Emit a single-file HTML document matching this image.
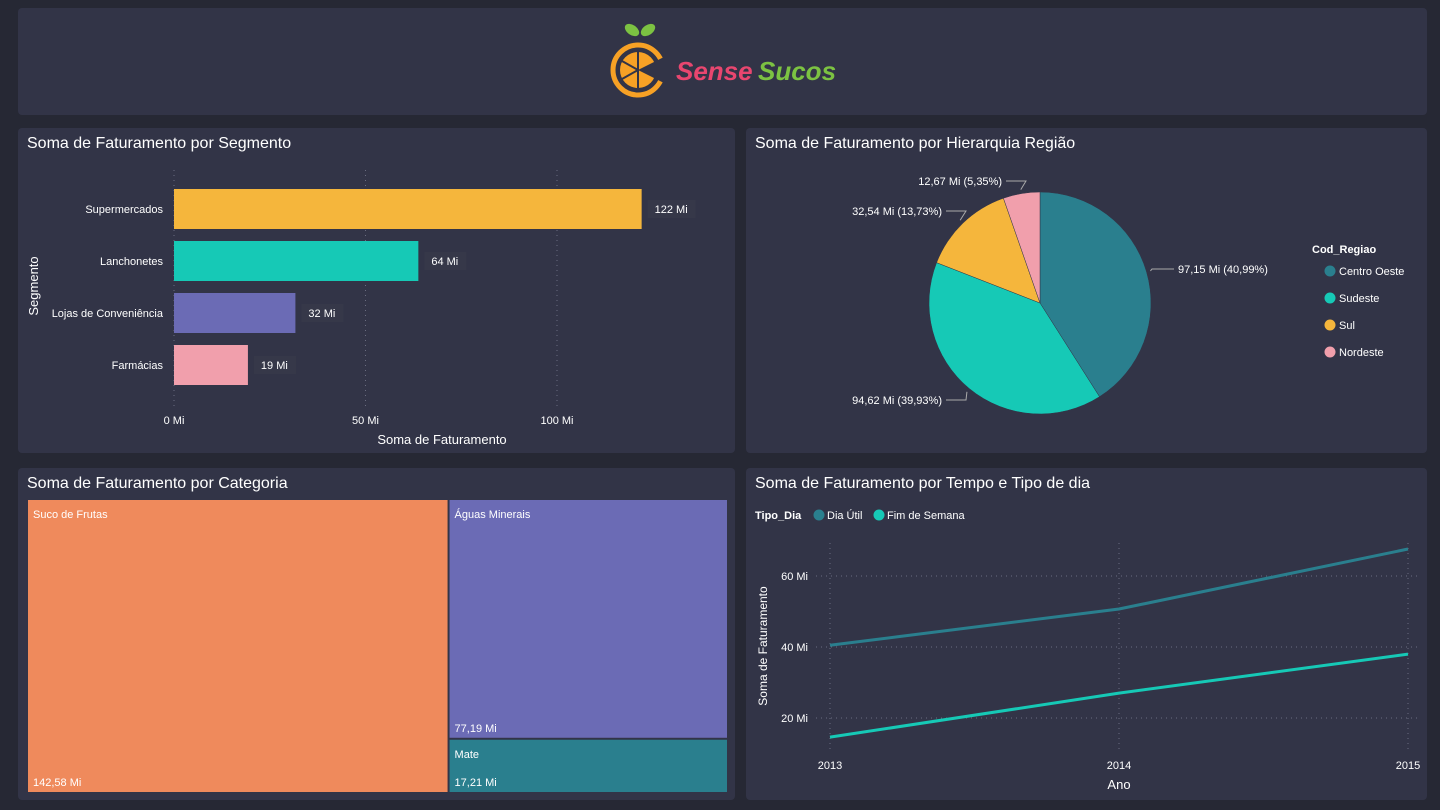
<!DOCTYPE html>
<html><head><meta charset="utf-8">
<style>
body{margin:0;width:1440px;height:810px;background:#262834;font-family:"Liberation Sans",sans-serif;overflow:hidden;position:relative;color:#fff}
.panel{position:absolute;background:#323447;border-radius:4px}
.title{position:absolute;left:9px;top:7px;font-size:16px;color:#fff}
svg text{font-family:"Liberation Sans",sans-serif}
</style></head><body>
<div class="panel" style="left:18px;top:8px;width:1409px;height:107px">
<svg width="1409" height="107">
 <ellipse cx="614" cy="22" rx="8" ry="5" fill="#7cc242" transform="rotate(35 614 22)"/>
 <ellipse cx="630" cy="22" rx="8" ry="5" fill="#7cc242" transform="rotate(-35 630 22)"/>
 <circle cx="620" cy="62" r="25" fill="none" stroke="#f7a125" stroke-width="5"/>
 <circle cx="620" cy="62" r="18" fill="#f7a125"/>
 <path d="M620 62 L648 48 L648 76 Z" fill="#323447"/>
 <g stroke="#323447" stroke-width="2"><line x1="620" y1="62" x2="620" y2="44"/><line x1="620" y1="62" x2="604" y2="53"/><line x1="620" y1="62" x2="604" y2="71"/><line x1="620" y1="62" x2="620" y2="80"/></g>
 <text x="658" y="72" font-size="26" font-weight="bold" font-style="italic" fill="#e8466f">Sense</text>
 <text x="740" y="72" font-size="26" font-weight="bold" font-style="italic" fill="#7cc242">Sucos</text>
</svg></div>

<div class="panel" style="left:18px;top:128px;width:717px;height:325px">
<div class="title">Soma de Faturamento por Segmento</div>
<svg id="bar" width="717" height="325" style="position:absolute;left:0;top:0"></svg></div>

<div class="panel" style="left:746px;top:128px;width:681px;height:325px">
<div class="title">Soma de Faturamento por Hierarquia Região</div>
<svg id="pie" width="681" height="325" style="position:absolute;left:0;top:0"></svg></div>

<div class="panel" style="left:18px;top:468px;width:717px;height:332px">
<div class="title">Soma de Faturamento por Categoria</div>
<svg id="tree" width="717" height="332" style="position:absolute;left:0;top:0"></svg></div>

<div class="panel" style="left:746px;top:468px;width:681px;height:332px">
<div class="title">Soma de Faturamento por Tempo e Tipo de dia</div>
<svg id="line" width="681" height="332" style="position:absolute;left:0;top:0"></svg></div>

<script>
const NS="http://www.w3.org/2000/svg";
function mk(p,t,a,txt){const e=document.createElementNS(NS,t);for(const k in a)e.setAttribute(k,a[k]);if(txt!==undefined)e.textContent=txt;p.appendChild(e);return e;}

// ---- Bar chart data
const segCats=["Supermercados","Lanchonetes","Lojas de Conveniência","Farmácias"];
const segVals=[122.1,63.8,31.7,19.3];
const segLabels=["122 Mi","64 Mi","32 Mi","19 Mi"];
const segColors=["#f5b63c","#16c9b6","#6b6bb5","#f19fac"];
const segTicks=[0,50,100];
// ---- Pie data
const regCats=["Centro Oeste","Sudeste","Sul","Nordeste"];
const regVals=[97.15,94.62,32.54,12.67];
const regLabels=["97,15 Mi (40,99%)","94,62 Mi (39,93%)","32,54 Mi (13,73%)","12,67 Mi (5,35%)"];
const regColors=["#2a7f8e","#16c9b6","#f5b63c","#f19fac"];
// ---- Treemap data
const catNames=["Suco de Frutas","Águas Minerais","Mate"];
const catVals=[142.58,77.19,17.21];
const catLabels=["142,58 Mi","77,19 Mi","17,21 Mi"];
const catColors=["#ef8a5c","#6b6bb5","#2a7f8e"];
// ---- Line data
const years=["2013","2014","2015"];
const diaUtil=[40.5,50.7,67.6];
const fimSemana=[14.6,27.0,38.0];
const lineTicks=[20,40,60];

// Bar
(function(){
 const s=document.getElementById('bar');
 const x=v=>156+v*3.83;
 const y0=61,step=52,bh=40;
 segTicks.forEach(t=>{
  const l=mk(s,'line',{x1:x(t),x2:x(t),y1:42,y2:282,stroke:'#6a6c80','stroke-dasharray':'1,4'});
  
  const tx=mk(s,'text',{x:x(t),y:296,'font-size':11,fill:'#fff','text-anchor':'middle'},t+' Mi');
  
 });
 segCats.forEach((c,i)=>{
  const yy=y0+i*step;
  const r=mk(s,'rect',{x:x(0),y:yy,width:x(segVals[i])-x(0),height:bh,fill:segColors[i]});
  
  const lb=mk(s,'text',{x:145,y:yy+bh/2+4,'font-size':11,fill:'#fff','text-anchor':'end'},c);
  
  const bg=mk(s,'rect',{x:x(segVals[i])+6,y:yy+11,width:segLabels[i].length*6+12,height:18,fill:'#363849'});
  
  const v=mk(s,'text',{x:x(segVals[i])+13,y:yy+bh/2+4,'font-size':11,fill:'#fff'},segLabels[i]);
  
 });
 const xt=mk(s,'text',{x:424,y:316,'font-size':13,fill:'#fff','text-anchor':'middle'},'Soma de Faturamento');
 
 const yt=mk(s,'text',{x:0,y:0,'font-size':13,fill:'#fff','text-anchor':'middle',transform:'translate(20,158) rotate(-90)'},'Segmento');
 
})();

// Pie
(function(){
 const s=document.getElementById('pie');
 const cx=294,cy=175,r=111;
 const tot=regVals.reduce((a,b)=>a+b,0);
 let a=-Math.PI/2;
 const lp=[[432,145,'start'],[196,276,'end'],[196,87,'end'],[256,57,'end']];
 regVals.forEach((v,i)=>{
  const da=v/tot*2*Math.PI,a2=a+da;
  const x1=cx+r*Math.cos(a),y1=cy+r*Math.sin(a),x2=cx+r*Math.cos(a2),y2=cy+r*Math.sin(a2);
  const p=mk(s,'path',{d:`M${cx},${cy} L${x1},${y1} A${r},${r} 0 ${da>Math.PI?1:0} 1 ${x2},${y2} Z`,fill:regColors[i],stroke:'#323447','stroke-width':0.5});
  
  const m=(a+a2)/2,ex=cx+(r+4)*Math.cos(m),ey=cy+(r+4)*Math.sin(m);
  const [lx,ly,an]=lp[i];
  const bx=an=='start'?lx-26:lx+24;
  const ll=mk(s,'polyline',{points:`${ex},${ey} ${bx},${ly-4} ${lx+(an=='start'?-4:4)},${ly-4}`,fill:'none',stroke:'#aaa','stroke-width':1});
  
  const t=mk(s,'text',{x:lx,y:ly,'font-size':11,fill:'#fff','text-anchor':an},regLabels[i]);
  
  a=a2;
 });
 const lt=mk(s,'text',{x:566,y:125,'font-size':11,'font-weight':'bold',fill:'#fff'},'Cod_Regiao');
 
 regCats.forEach((c,i)=>{
  const g=mk(s,'g',{});
  mk(g,'circle',{cx:584,cy:143+i*27,r:5.5,fill:regColors[i]});
  mk(g,'text',{x:593,y:147+i*27,'font-size':11,fill:'#fff'},c);
 });
})();

// Treemap
(function(){
 const s=document.getElementById('tree');
 const X=10,Y=32,W=699,H=292;
 const tot=catVals.reduce((a,b)=>a+b,0);
 const w0=W*catVals[0]/tot;
 const rest=catVals[1]+catVals[2];
 const h1=H*catVals[1]/rest;
 const rects=[[X,Y,w0-1,H],[X+w0+1,Y,W-w0-1,h1-1],[X+w0+1,Y+h1+1,W-w0-1,H-h1-1]];
 rects.forEach((r,i)=>{
  const g=mk(s,'g',{});
  mk(g,'rect',{x:r[0],y:r[1],width:r[2],height:r[3],fill:catColors[i]});
  mk(g,'text',{x:r[0]+5,y:r[1]+18,'font-size':11,fill:'#fff'},catNames[i]);
  mk(g,'text',{x:r[0]+5,y:r[1]+r[3]-6,'font-size':11,fill:'#fff'},catLabels[i]);
 });
})();

// Line
(function(){
 const s=document.getElementById('line');
 const x=i=>84+i*289;
 const y=v=>321-v*3.55;
 const lg=mk(s,'g',{});
 mk(lg,'text',{x:9,y:51,'font-size':11,'font-weight':'bold',fill:'#fff'},'Tipo_Dia');
 mk(lg,'circle',{cx:73,cy:47,r:5.5,fill:'#2a7f8e'});
 mk(lg,'text',{x:81,y:51,'font-size':11,fill:'#fff'},'Dia Útil');
 mk(lg,'circle',{cx:133,cy:47,r:5.5,fill:'#16c9b6'});
 mk(lg,'text',{x:141,y:51,'font-size':11,fill:'#fff'},'Fim de Semana');
 lineTicks.forEach(t=>{
  const l=mk(s,'line',{x1:70,x2:675,y1:y(t),y2:y(t),stroke:'#6a6c80','stroke-dasharray':'1,4'});
  
  const tx=mk(s,'text',{x:62,y:y(t)+4,'font-size':11,fill:'#fff','text-anchor':'end'},t+' Mi');
  
 });
 years.forEach((yr,i)=>{
  const l=mk(s,'line',{x1:x(i),x2:x(i),y1:75,y2:282,stroke:'#6a6c80','stroke-dasharray':'1,4'});
  
  const tx=mk(s,'text',{x:x(i),y:301,'font-size':11,fill:'#fff','text-anchor':'middle'},yr);
  
 });
 [[diaUtil,'#2a7f8e','line-dia-util'],[fimSemana,'#16c9b6','line-fim-de-semana']].forEach(([d,c,n])=>{
  const p=mk(s,'polyline',{points:d.map((v,i)=>x(i)+','+y(v)).join(' '),fill:'none',stroke:c,'stroke-width':3});
  
 });
 const xt=mk(s,'text',{x:373,y:321,'font-size':13,fill:'#fff','text-anchor':'middle'},'Ano');
 
 const yt=mk(s,'text',{x:0,y:0,'font-size':12,fill:'#fff','text-anchor':'middle',transform:'translate(21,178) rotate(-90)'},'Soma de Faturamento');
 
})();
</script>
</body></html>
